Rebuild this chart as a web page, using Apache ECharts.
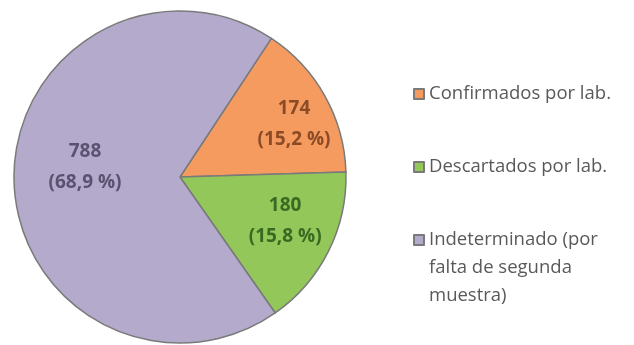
<!DOCTYPE html>
<html>
<head>
<meta charset="utf-8">
<script src="https://cdn.jsdelivr.net/npm/echarts@6/dist/echarts.min.js"></script>
<style>
  html, body { margin: 0; padding: 0; background: #ffffff; }
  #chart { width: 634px; height: 345px; }
</style>
</head>
<body>
<div id="chart"></div>
<script>
// Case classification
const categories = ['Confirmados por lab.', 'Descartados por lab.', 'Indeterminado (por\nfalta de segunda\nmuestra)'];
const counts = [174, 180, 788];
const pctText = ['15,2', '15,8', '68,9'];

// Styling
const fills = ['#F59B5F', '#93C75A', '#B4AACB'];
const labelColors = ['#8A4B26', '#386A22', '#5A5270'];
const FONT = '"Open Sans", Lato, sans-serif';
const CX = 180, CY = 177, R = 166;
// radial distance / angle (deg) of each value label inside its slice
const labelPolar = [[125.7, 24.9], [114, -22.7], [95.5, 174]];

const chart = echarts.init(document.getElementById('chart'), null, { renderer: 'canvas' });

const seriesData = categories.map((name, i) => ({
  name: name,
  value: counts[i],
  itemStyle: { color: fills[i] },
  label: { color: labelColors[i] }
}));

const legendText = { fontFamily: FONT, fontSize: 18.5, color: '#595959', lineHeight: 28 };

// one legend block per entry so each icon sits beside the first line of its text
function legendFor(i, iconCenterY, halfHeight, formatter) {
  const l = {
    data: [categories[i]],
    left: 413,
    top: iconCenterY - halfHeight,
    orient: 'vertical',
    padding: 0,
    itemWidth: 10,
    itemHeight: 10,
    itemGap: 0,
    icon: 'rect',
    selectedMode: false,
    textStyle: legendText
  };
  if (formatter) l.formatter = formatter;
  return l;
}

chart.setOption({
  backgroundColor: '#ffffff',
  animation: false,
  legend: [
    legendFor(0, 94, 14),
    legendFor(1, 167, 14),
    // two blank leading lines keep the first text line level with the icon
    legendFor(2, 240, 70, name => '\n\n' + name)
  ],
  series: [{
    type: 'pie',
    center: [CX, CY],
    radius: [0, R],
    startAngle: 56.6,
    clockwise: true,
    avoidLabelOverlap: false,
    itemStyle: { borderColor: '#7A7A7A', borderWidth: 1.5 },
    emphasis: { disabled: true },
    label: {
      show: true,
      position: 'inside',
      fontFamily: FONT,
      fontWeight: 'bold',
      fontSize: 19,
      lineHeight: 31,
      align: 'center',
      formatter: p => p.value + '\n(' + pctText[p.dataIndex] + ' %)'
    },
    labelLine: { show: false },
    labelLayout: function (params) {
      const pr = labelPolar[params.dataIndex];
      const a = pr[1] * Math.PI / 180;
      return {
        x: CX + pr[0] * Math.cos(a),
        y: CY - pr[0] * Math.sin(a),
        align: 'center',
        verticalAlign: 'middle'
      };
    },
    data: seriesData
  }]
});
</script>
</body>
</html>
